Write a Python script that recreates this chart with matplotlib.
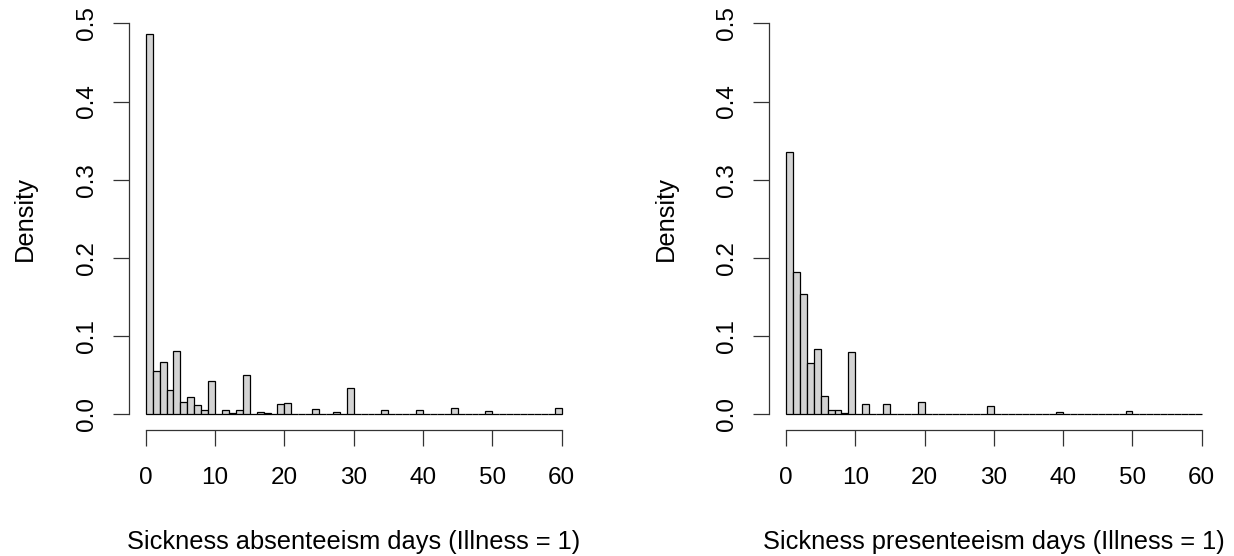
import numpy as np
import matplotlib
matplotlib.use("Agg")
import matplotlib.pyplot as plt

plt.rcParams['font.family'] = ['Liberation Sans', 'DejaVu Sans']

# bin edges 0..60, width 1 day
bin_edges = np.arange(0, 61)

# density per bin, absenteeism (Illness = 1)
absent_density = [
    0.487, 0.055, 0.067, 0.031, 0.081, 0.016, 0.022, 0.012, 0.005, 0.043,
    0.001, 0.005, 0.002, 0.006, 0.050, 0.001, 0.003, 0.002, 0.001, 0.013,
    0.015, 0.001, 0.0005, 0.001, 0.007, 0.0005, 0.0005, 0.003, 0.0005, 0.034,
    0.001, 0.0005, 0.0005, 0.0005, 0.005, 0.001, 0.0005, 0.0005, 0.0005, 0.006,
    0.0005, 0.001, 0.0, 0.0, 0.0085, 0.0, 0.0, 0.0005, 0.0, 0.004,
    0.0, 0.0, 0.0, 0.0, 0.0005, 0.0, 0.0, 0.0, 0.0, 0.008,
]

# density per bin, presenteeism (Illness = 1)
present_density = [
    0.336, 0.182, 0.154, 0.066, 0.083, 0.024, 0.006, 0.006, 0.0017, 0.080,
    0.0, 0.013, 0.0, 0.0, 0.013, 0.0, 0.0, 0.0, 0.0, 0.016,
    0.0005, 0.0, 0.0, 0.0008, 0.0008, 0.0, 0.0, 0.0, 0.0, 0.011,
    0.0, 0.0, 0.0, 0.0, 0.0008, 0.0008, 0.0, 0.0, 0.0, 0.003,
    0.0, 0.0, 0.0, 0.0, 0.0008, 0.0, 0.0, 0.0008, 0.0, 0.0046,
    0.0008, 0.0, 0.0, 0.0, 0.0, 0.0, 0.0, 0.0, 0.0, 0.001,
]

panels = [
    (absent_density, "Sickness absenteeism days (Illness = 1)"),
    (present_density, "Sickness presenteeism days (Illness = 1)"),
]

W, H = 1234, 556
fig = plt.figure(figsize=(W / 100, H / 100), dpi=100)

# plot regions in pixels (left, top, right, bottom), R-style with 4% padding
boxes = [(129.1, 7.7, 578.3, 430.0), (769.4, 7.7, 1218.4, 430.0)]

for (dens, xlab), (l, t, r, b) in zip(panels, boxes):
    ax = fig.add_axes([l / W, 1 - b / H, (r - l) / W, (b - t) / H])
    ax.bar(bin_edges[:-1], dens, width=1, align='edge',
           color='#d3d3d3', edgecolor='black', linewidth=0.9)
    ax.set_xlim(-2.4, 62.4)
    ax.set_ylim(-0.02, 0.52)

    for s in ['top', 'right']:
        ax.spines[s].set_visible(False)
    ax.spines['left'].set_bounds(0, 0.5)
    ax.spines['bottom'].set_bounds(0, 60)
    for s in ['left', 'bottom']:
        ax.spines[s].set_linewidth(0.9)
        ax.spines[s].set_color('#333333')

    ax.set_xticks(np.arange(0, 61, 10))
    ax.set_yticks(np.arange(0, 0.51, 0.1))
    ax.set_yticklabels(['0.0', '0.1', '0.2', '0.3', '0.4', '0.5'],
                       rotation=90, va='center')
    ax.tick_params(axis='both', direction='out', length=11.5, width=0.9,
                   color='#333333', labelsize=17.5)
    ax.tick_params(axis='x', pad=15.5)
    ax.tick_params(axis='y', pad=11)

    # axis titles placed like R's mtext lines
    fig.text((l + r) / 2 / W, 1 - 549 / H, xlab, fontsize=18.3,
             ha='center', va='baseline')
    fig.text(l / W - 104 / W, 1 - (t + b) / 2 / H, 'Density', fontsize=18.3,
             rotation=90, ha='center', va='center')

fig.savefig('out.png', dpi=100)
